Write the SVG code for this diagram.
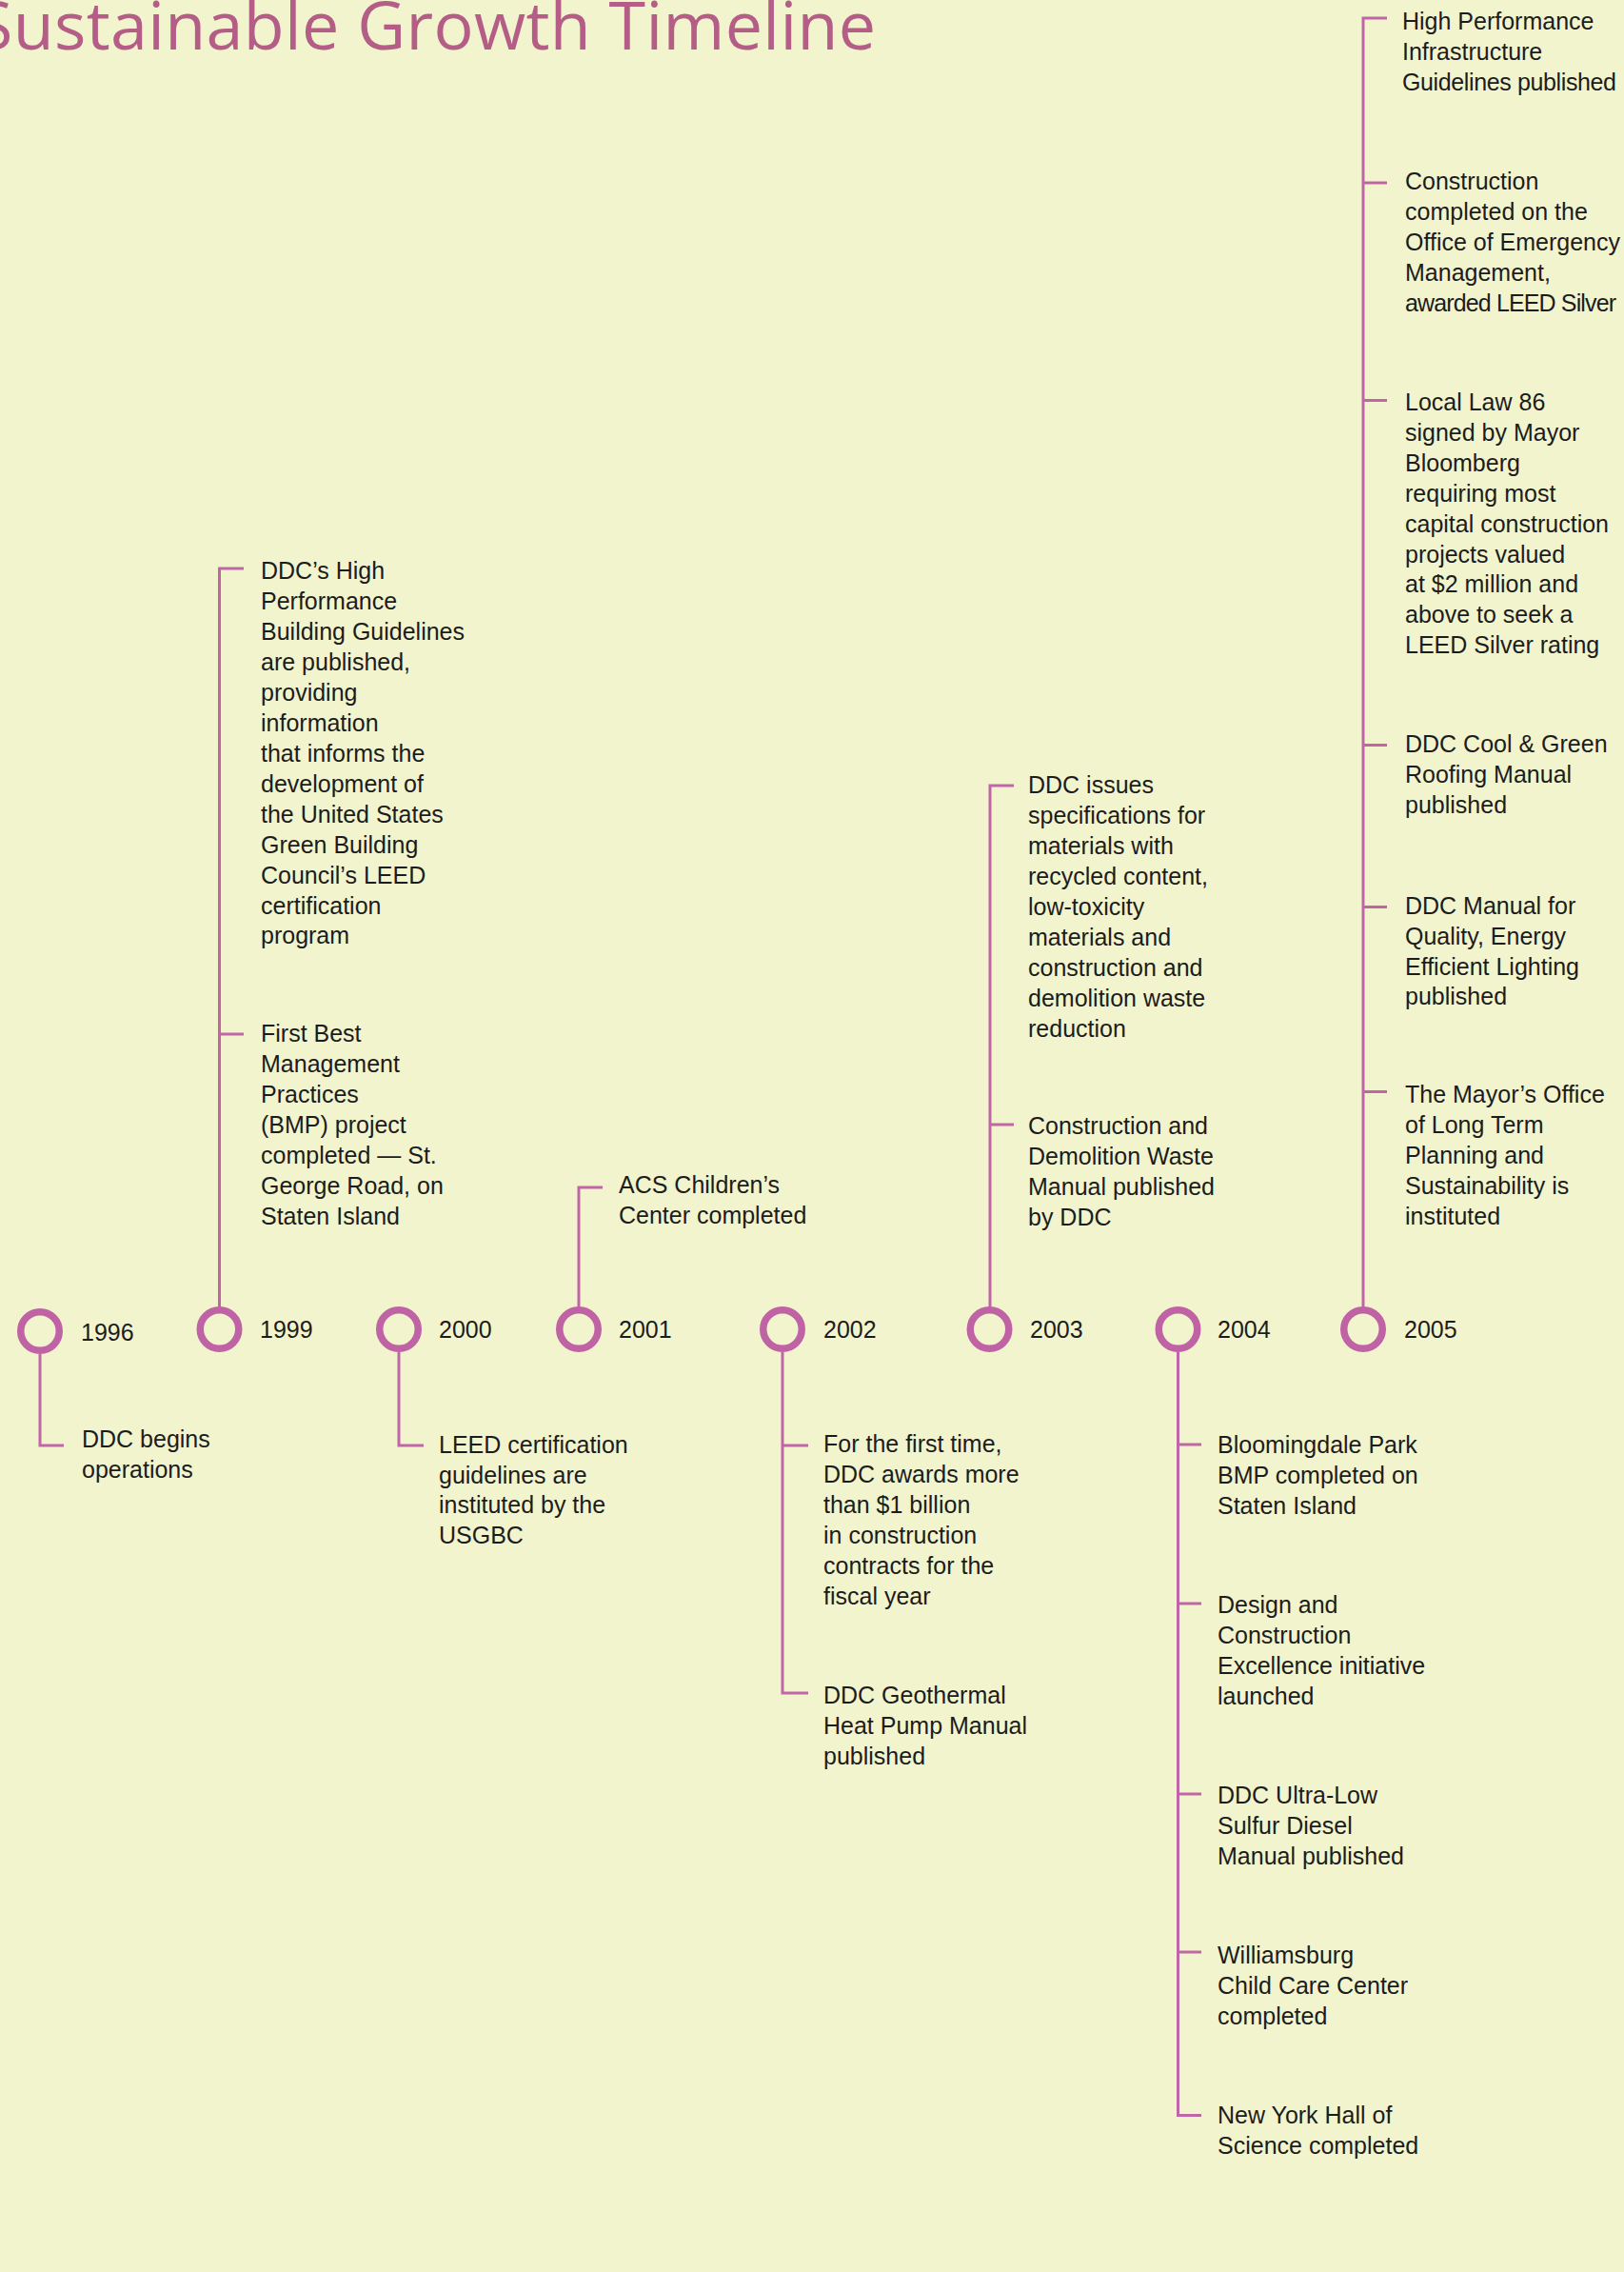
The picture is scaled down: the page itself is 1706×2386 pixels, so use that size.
<svg xmlns="http://www.w3.org/2000/svg" width="1706" height="2386" viewBox="0 0 1706 2386">
<style>
.bg{fill:#F2F4CD}
.title{font-family:"Open Sans","Liberation Sans",sans-serif;font-size:70px;fill:#B45E87}
.t{font-family:"Liberation Sans",Arial,sans-serif;font-size:25px;fill:#1C1C1C}
.yr{font-family:"Liberation Sans",Arial,sans-serif;font-size:25px;fill:#1C1C1C}
.ln{fill:none;stroke:#C066A8;stroke-width:3}
.dot{fill:#F2F4CD;stroke:#BF63A5;stroke-width:7.5}
</style>
<rect class="bg" x="0" y="0" width="1706" height="2386"/>
<text class="title" x="-25" y="52" textLength="945">Sustainable Growth Timeline</text>

<g id="connectors">
<path class="ln" d="M42,1422 V1518 H67"/>
<path class="ln" d="M256,597 H230.5 V1376 M230.5,1086 H256"/>
<path class="ln" d="M419,1420 V1518 H445"/>
<path class="ln" d="M633,1247 H608 V1376"/>
<path class="ln" d="M822,1420 V1778 H849 M822,1518 H849"/>
<path class="ln" d="M1065,825 H1040 V1376 M1040,1181 H1065"/>
<path class="ln" d="M1237.5,1420 V2221.5 H1262 M1237.5,1517 H1262 M1237.5,1684 H1262 M1237.5,1884 H1262 M1237.5,2050 H1262"/>
<path class="ln" d="M1457,19 H1432 V1376 M1432,192 H1457 M1432,420.5 H1457 M1432,782.5 H1457 M1432,952.5 H1457 M1432,1146.5 H1457"/>
</g>

<g id="y1996"><circle class="dot" cx="42" cy="1398" r="20.25"/><text class="yr" x="85" y="1408">1996</text></g>
<g id="y1999"><circle class="dot" cx="230.5" cy="1396" r="20.25"/><text class="yr" x="273" y="1405">1999</text></g>
<g id="y2000"><circle class="dot" cx="419" cy="1396" r="20.25"/><text class="yr" x="461" y="1405">2000</text></g>
<g id="y2001"><circle class="dot" cx="608" cy="1396" r="20.25"/><text class="yr" x="650" y="1405">2001</text></g>
<g id="y2002"><circle class="dot" cx="822" cy="1396" r="20.25"/><text class="yr" x="865" y="1405">2002</text></g>
<g id="y2003"><circle class="dot" cx="1039.5" cy="1396" r="20.25"/><text class="yr" x="1082" y="1405">2003</text></g>
<g id="y2004"><circle class="dot" cx="1237.5" cy="1396" r="20.25"/><text class="yr" x="1279" y="1405">2004</text></g>
<g id="y2005"><circle class="dot" cx="1432" cy="1396" r="20.25"/><text class="yr" x="1475" y="1405">2005</text></g>

<g id="e1996">
<text class="t"><tspan x="86" y="1520">DDC begins</tspan><tspan x="86" y="1552">operations</tspan></text>
</g>

<g id="e1999a">
<text class="t"><tspan x="274" y="608">DDC’s High</tspan><tspan x="274" y="640">Performance</tspan><tspan x="274" y="672">Building Guidelines</tspan><tspan x="274" y="704">are published,</tspan><tspan x="274" y="736">providing</tspan><tspan x="274" y="768">information</tspan><tspan x="274" y="800">that informs the</tspan><tspan x="274" y="832">development of</tspan><tspan x="274" y="864">the United States</tspan><tspan x="274" y="896">Green Building</tspan><tspan x="274" y="928">Council’s LEED</tspan><tspan x="274" y="960">certification</tspan><tspan x="274" y="991">program</tspan></text>
</g>
<g id="e1999b">
<text class="t"><tspan x="274" y="1093.5">First Best</tspan><tspan x="274" y="1125.5">Management</tspan><tspan x="274" y="1157.5">Practices</tspan><tspan x="274" y="1189.5">(BMP) project</tspan><tspan x="274" y="1221.5">completed — St.</tspan><tspan x="274" y="1253.5">George Road, on</tspan><tspan x="274" y="1285.5">Staten Island</tspan></text>
</g>

<g id="e2000">
<text class="t"><tspan x="461" y="1526">LEED certification</tspan><tspan x="461" y="1557.5">guidelines are</tspan><tspan x="461" y="1589">instituted by the</tspan><tspan x="461" y="1620.5">USGBC</tspan></text>
</g>

<g id="e2001">
<text class="t"><tspan x="650" y="1253">ACS Children’s</tspan><tspan x="650" y="1285">Center completed</tspan></text>
</g>

<g id="e2002a">
<text class="t"><tspan x="865" y="1524.5">For the first time,</tspan><tspan x="865" y="1556.5">DDC awards more</tspan><tspan x="865" y="1588.5">than $1 billion</tspan><tspan x="865" y="1620.5">in construction</tspan><tspan x="865" y="1652.5">contracts for the</tspan><tspan x="865" y="1684.5">fiscal year</tspan></text>
</g>
<g id="e2002b">
<text class="t"><tspan x="865" y="1789">DDC Geothermal</tspan><tspan x="865" y="1821">Heat Pump Manual</tspan><tspan x="865" y="1853">published</tspan></text>
</g>

<g id="e2003a">
<text class="t"><tspan x="1080" y="833">DDC issues</tspan><tspan x="1080" y="865">specifications for</tspan><tspan x="1080" y="897">materials with</tspan><tspan x="1080" y="929">recycled content,</tspan><tspan x="1080" y="961">low-toxicity</tspan><tspan x="1080" y="993">materials and</tspan><tspan x="1080" y="1025">construction and</tspan><tspan x="1080" y="1057">demolition waste</tspan><tspan x="1080" y="1089">reduction</tspan></text>
</g>
<g id="e2003b">
<text class="t"><tspan x="1080" y="1191">Construction and</tspan><tspan x="1080" y="1223">Demolition Waste</tspan><tspan x="1080" y="1255">Manual published</tspan><tspan x="1080" y="1287">by DDC</tspan></text>
</g>

<g id="e2004a">
<text class="t"><tspan x="1279" y="1526">Bloomingdale Park</tspan><tspan x="1279" y="1558">BMP completed on</tspan><tspan x="1279" y="1590">Staten Island</tspan></text>
</g>
<g id="e2004b">
<text class="t"><tspan x="1279" y="1694">Design and</tspan><tspan x="1279" y="1726">Construction</tspan><tspan x="1279" y="1758">Excellence initiative</tspan><tspan x="1279" y="1790">launched</tspan></text>
</g>
<g id="e2004c">
<text class="t"><tspan x="1279" y="1894">DDC Ultra-Low</tspan><tspan x="1279" y="1926">Sulfur Diesel</tspan><tspan x="1279" y="1958">Manual published</tspan></text>
</g>
<g id="e2004d">
<text class="t"><tspan x="1279" y="2061.5">Williamsburg</tspan><tspan x="1279" y="2093.5">Child Care Center</tspan><tspan x="1279" y="2125.5">completed</tspan></text>
</g>
<g id="e2004e">
<text class="t"><tspan x="1279" y="2230">New York Hall of</tspan><tspan x="1279" y="2262">Science completed</tspan></text>
</g>

<g id="e2005a">
<text class="t"><tspan x="1473" y="31">High Performance</tspan><tspan x="1473" y="63">Infrastructure</tspan><tspan x="1473" y="95" textLength="225">Guidelines published</tspan></text>
</g>
<g id="e2005b">
<text class="t"><tspan x="1476" y="199">Construction</tspan><tspan x="1476" y="231">completed on the</tspan><tspan x="1476" y="263">Office of Emergency</tspan><tspan x="1476" y="295">Management,</tspan><tspan x="1476" y="327" textLength="222">awarded LEED Silver</tspan></text>
</g>
<g id="e2005c">
<text class="t"><tspan x="1476" y="431">Local Law 86</tspan><tspan x="1476" y="463">signed by Mayor</tspan><tspan x="1476" y="495">Bloomberg</tspan><tspan x="1476" y="527">requiring most</tspan><tspan x="1476" y="558.5">capital construction</tspan><tspan x="1476" y="590.5">projects valued</tspan><tspan x="1476" y="622">at $2 million and</tspan><tspan x="1476" y="654">above to seek a</tspan><tspan x="1476" y="685.5">LEED Silver rating</tspan></text>
</g>
<g id="e2005d">
<text class="t"><tspan x="1476" y="789.5">DDC Cool &amp; Green</tspan><tspan x="1476" y="821.5">Roofing Manual</tspan><tspan x="1476" y="853.5">published</tspan></text>
</g>
<g id="e2005e">
<text class="t"><tspan x="1476" y="959.5">DDC Manual for</tspan><tspan x="1476" y="991.5">Quality, Energy</tspan><tspan x="1476" y="1023.5">Efficient Lighting</tspan><tspan x="1476" y="1055">published</tspan></text>
</g>
<g id="e2005f">
<text class="t"><tspan x="1476" y="1158">The Mayor’s Office</tspan><tspan x="1476" y="1190">of Long Term</tspan><tspan x="1476" y="1222">Planning and</tspan><tspan x="1476" y="1254">Sustainability is</tspan><tspan x="1476" y="1286">instituted</tspan></text>
</g>
</svg>
